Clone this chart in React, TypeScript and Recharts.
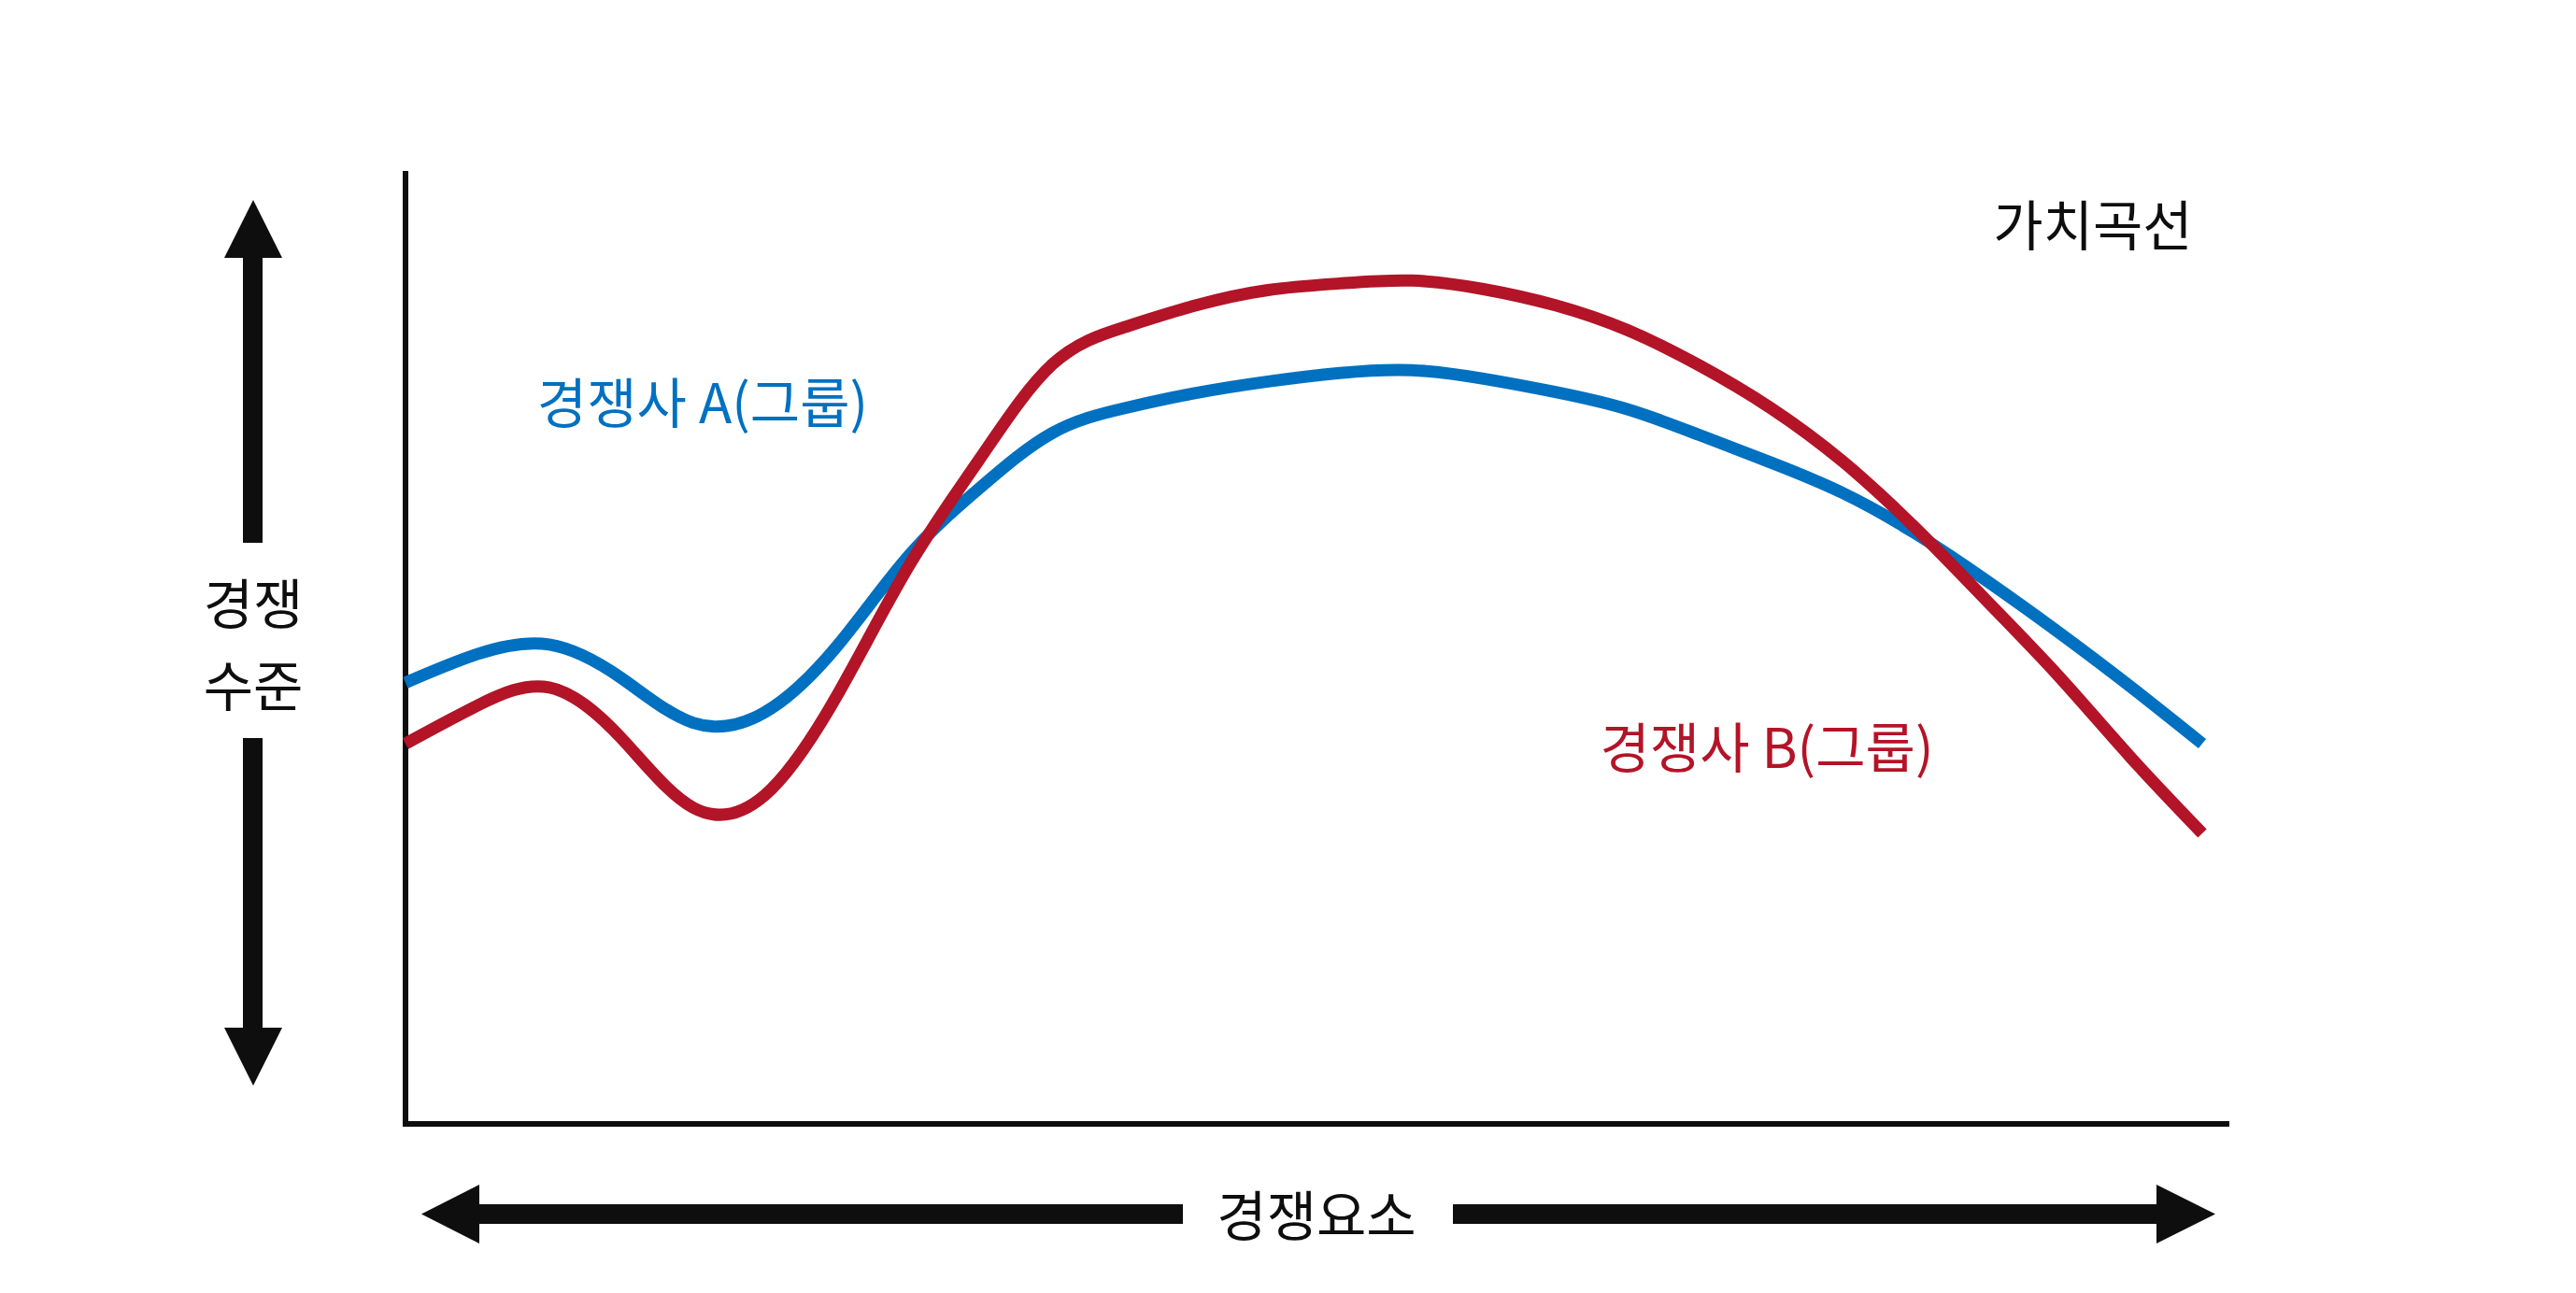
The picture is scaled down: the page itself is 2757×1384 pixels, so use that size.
import React from 'react';
import { LineChart, Line, XAxis, YAxis, Customized } from 'recharts';

// 경쟁요소 position (0-100) and 경쟁수준 (0-100)
const positions = [0, 4, 8, 12, 16, 20, 24, 28, 32, 36, 40, 44, 48, 52, 56, 60, 64, 68, 72, 76, 80, 84, 88, 92, 96, 100];
const groupA = [46.3, 49.3, 50.3, 46.8, 42.1, 43.2, 50.1, 59.6, 66.8, 72.5, 75.1, 76.7, 77.9, 78.8, 79.1, 78.2, 76.8, 75.0, 72.3, 69.4, 66.2, 62.0, 57.0, 51.6, 45.9, 39.9];
const groupB = [39.9, 43.9, 45.8, 40.5, 33.2, 34.5, 44.9, 58.5, 69.9, 79.7, 83.6, 85.9, 87.5, 88.2, 88.5, 87.6, 85.9, 83.3, 79.6, 75.1, 69.5, 62.6, 54.9, 47.0, 38.5, 30.5];

const labelA = '경쟁사 A(그룹)';
const labelB = '경쟁사 B(그룹)';
const titleText = '가치곡선';
const xTitle = '경쟁요소';
const yTitle = ['경쟁', '수준'];

const data = positions.map((x, i) => ({ x, a: groupA[i], b: groupB[i] }));

const BLUE = '#0070C0';
const RED = '#B31427';
const INK = '#0e0e0e';
const FONT = '"Noto Sans CJK KR", "Noto Sans", sans-serif';
const FS = 58;

const Decor = () => (
  <g>
    <line x1={434} y1={183} x2={434} y2={1203} stroke={INK} strokeWidth={6} />
    <line x1={431} y1={1203} x2={2386} y2={1203} stroke={INK} strokeWidth={6} />
    <polygon fill={INK} points="271,214 302,276 281,276 281,581 260,581 260,276 240,276" />
    <polygon fill={INK} points="260,790 281,790 281,1100 302,1100 271,1162 240,1100 260,1100" />
    <polygon fill={INK} points="451,1299.5 513,1268 513,1289 1266,1289 1266,1310 513,1310 513,1331" />
    <polygon fill={INK} points="1555,1289 2308,1289 2308,1268 2371,1299.5 2308,1331 2308,1310 1555,1310" />
    <text x={271} y={643} textAnchor="middle" dominantBaseline="central" fontFamily={FONT} fontSize={FS} fill={INK}>{yTitle[0]}</text>
    <text x={271} y={731} textAnchor="middle" dominantBaseline="central" fontFamily={FONT} fontSize={FS} fill={INK}>{yTitle[1]}</text>
    <text x={1409} y={1298} textAnchor="middle" dominantBaseline="central" fontFamily={FONT} fontSize={FS} fill={INK}>{xTitle}</text>
    <text x={2240} y={238} textAnchor="middle" dominantBaseline="central" fontFamily={FONT} fontSize={FS} fill={INK}>{titleText}</text>
    <text x={752} y={428} textAnchor="middle" dominantBaseline="central" fontFamily={FONT} fontSize={FS} fill={BLUE}>{labelA}</text>
    <text x={1891} y={797} textAnchor="middle" dominantBaseline="central" fontFamily={FONT} fontSize={FS} fill={RED}>{labelB}</text>
  </g>
);

export default function App() {
  return (
    <div style={{ position: 'absolute', left: 0, top: 0, width: 2757, height: 1384, background: '#fff' }}>
      <LineChart width={2757} height={1384} data={data} margin={{ top: 183, right: 400, bottom: 181, left: 434 }}>
        <XAxis type="number" dataKey="x" domain={[0, 100]} height={0} tick={false} tickLine={false} axisLine={false} />
        <YAxis type="number" domain={[0, 100]} width={0} tick={false} tickLine={false} axisLine={false} />
        <Line dataKey="a" type="natural" stroke={BLUE} strokeWidth={13} dot={false}
          activeDot={false} isAnimationActive={false} />
        <Line dataKey="b" type="natural" stroke={RED} strokeWidth={13} dot={false}
          activeDot={false} isAnimationActive={false} />
        <Customized component={Decor} />
      </LineChart>
    </div>
  );
}
